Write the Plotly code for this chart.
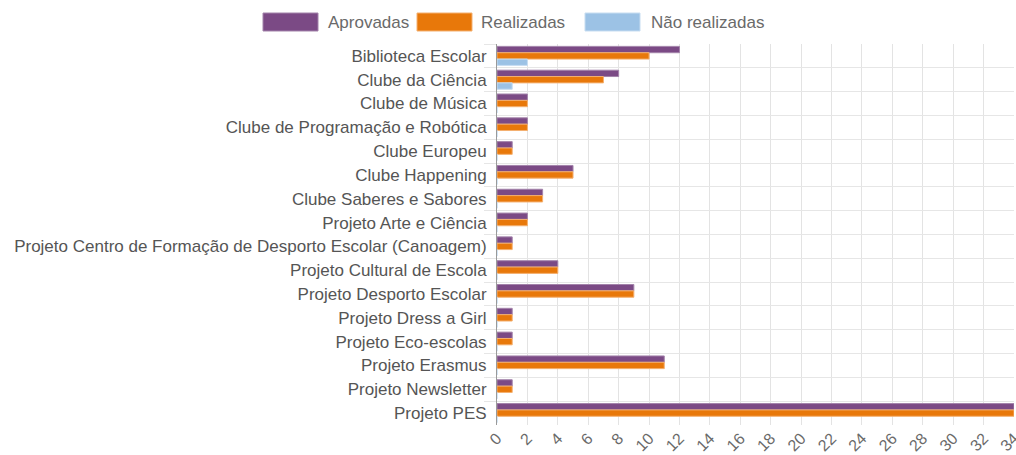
import plotly.graph_objects as go

categories = [
    "Biblioteca Escolar",
    "Clube da Ciência",
    "Clube de Música",
    "Clube de Programação e Robótica",
    "Clube Europeu",
    "Clube Happening",
    "Clube Saberes e Sabores",
    "Projeto Arte e Ciência",
    "Projeto Centro de Formação de Desporto Escolar (Canoagem)",
    "Projeto Cultural de Escola",
    "Projeto Desporto Escolar",
    "Projeto Dress a Girl",
    "Projeto Eco-escolas",
    "Projeto Erasmus",
    "Projeto Newsletter",
    "Projeto PES",
]
aprovadas = [12, 8, 2, 2, 1, 5, 3, 2, 1, 4, 9, 1, 1, 11, 1, 34]
realizadas = [10, 7, 2, 2, 1, 5, 3, 2, 1, 4, 9, 1, 1, 11, 1, 34]
nao_realizadas = [2, 1, 0, 0, 0, 0, 0, 0, 0, 0, 0, 0, 0, 0, 0, 0]
x_ticks = list(range(0, 35, 2))

series = [
    ("Aprovadas", aprovadas, "#7b4a85", "#a383aa"),
    ("Realizadas", realizadas, "#e8780a", "#f4b070"),
    ("Não realizadas", nao_realizadas, "#9cc2e5", "#c7ddf1"),
]

PLOT_L, PLOT_R, PLOT_T, PLOT_B = 497, 1014, 44, 425
FIG_W, FIG_H = 1016, 455

def px_x(p):
    return (p - PLOT_L) / (PLOT_R - PLOT_L)

def px_y(p):
    return (PLOT_B - p) / (PLOT_B - PLOT_T)

fig = go.Figure()
for name, vals, col, edge in series:
    fig.add_trace(go.Bar(
        y=categories, x=vals, name=name, orientation="h",
        marker=dict(color=col, line=dict(color=edge, width=1)),
        showlegend=False,
    ))

FONT = "Liberation Sans, Arial, sans-serif"

# custom legend (wide swatches, as in the reference)
legend_pos = [(263, 326), (417, 479), (585, 649)]
shapes, annotations = [], []
for (sx, tx), (name, _, col, edge) in zip(legend_pos, series):
    shapes.append(dict(
        type="rect", xref="paper", yref="paper",
        x0=px_x(sx), x1=px_x(sx + 55), y0=px_y(31), y1=px_y(13),
        fillcolor=col, line=dict(color=edge, width=1),
    ))
    annotations.append(dict(
        text=name, xref="paper", yref="paper", showarrow=False,
        x=px_x(tx), y=px_y(22), xanchor="left", yanchor="middle",
        font=dict(size=17, color="#6a6a6a", family=FONT),
    ))

fig.update_layout(
    width=FIG_W, height=FIG_H,
    margin=dict(l=PLOT_L, r=FIG_W - PLOT_R, t=PLOT_T, b=FIG_H - PLOT_B),
    paper_bgcolor="white", plot_bgcolor="white",
    barmode="group", bargap=0.2, bargroupgap=0,
    font=dict(family=FONT, size=17, color="#555555"),
    shapes=shapes, annotations=annotations,
    xaxis=dict(
        range=[0, 34], tickvals=x_ticks, tickangle=-45,
        showgrid=True, gridcolor="#e3e3e3", gridwidth=1,
        zeroline=False, showline=False,
        tickfont=dict(size=16, color="#6a6a6a"),
        ticklabeloverflow="allow",
        automargin=False,
    ),
    yaxis=dict(
        autorange="reversed", tickson="boundaries",
        showgrid=True, gridcolor="#e6e6e6",
        ticks="outside", ticklen=12, tickcolor="#e6e6e6",
        ticklabelstandoff=6,
        showline=True, linecolor="#9a9a9a", linewidth=1,
        tickfont=dict(size=17, color="#555555"),
        automargin=False,
    ),
)

fig.write_html(
    "out.html",
    config={"displayModeBar": False},
    post_script="document.body.style.margin='0';document.body.style.overflow='hidden';",
)
